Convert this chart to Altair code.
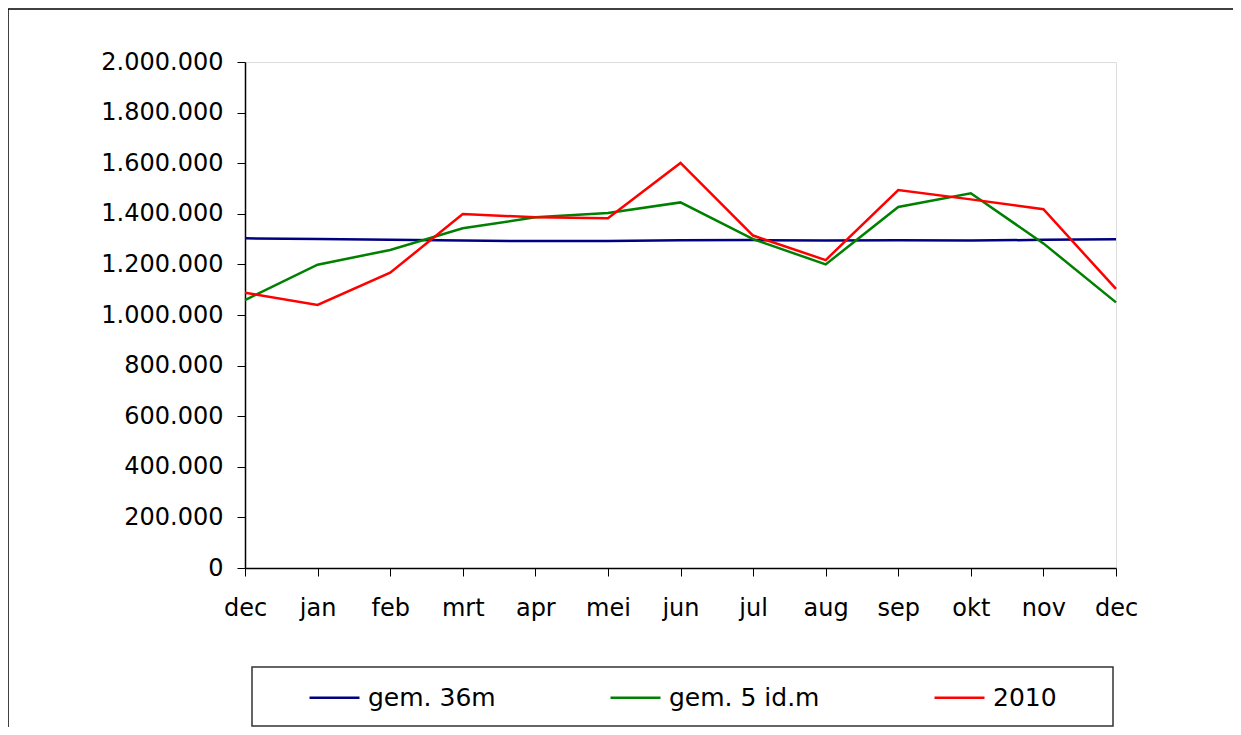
import altair as alt
import pandas as pd

months = ["dec", "jan", "feb", "mrt", "apr", "mei", "jun", "jul", "aug", "sep", "okt", "nov", "dec"]
series_names = ["gem. 36m", "gem. 5 id.m", "2010"]
series_colors = ["#000080", "#008000", "#FF0000"]

gem36 = [1303000, 1300000, 1297000, 1294000, 1292000, 1292000, 1295000, 1296000, 1294000, 1295000, 1294000, 1297000, 1299000]
gem5 = [1059000, 1199000, 1257000, 1343000, 1386000, 1403000, 1445000, 1300000, 1200000, 1427000, 1481000, 1283000, 1050000]
y2010 = [1088000, 1040000, 1167000, 1399000, 1386000, 1382000, 1601000, 1314000, 1217000, 1494000, 1457000, 1418000, 1103000]

rows = []
for name, vals in zip(series_names, [gem36, gem5, y2010]):
    for i, v in enumerate(vals):
        rows.append({"idx": i, "serie": name, "value": v})
df = pd.DataFrame(rows)

FONT = "DejaVu Sans"
label_expr = "[" + ",".join("'%s'" % m for m in months) + "][datum.value]"

lines = alt.Chart(df).mark_line(strokeWidth=2.5).encode(
    x=alt.X("idx:O", scale=alt.Scale(type="point", padding=0),
            axis=alt.Axis(title=None, labelExpr=label_expr, labelAngle=0,
                          labelFontSize=24, labelFont=FONT, labelColor="black",
                          labelPadding=20, tickSize=8, tickColor="black",
                          domainColor="black", domainWidth=1.5, grid=False)),
    y=alt.Y("value:Q", scale=alt.Scale(domain=[0, 2000000], nice=False),
            axis=alt.Axis(title=None, values=list(range(0, 2000001, 200000)), format=",d",
                          labelFontSize=24, labelFont=FONT, labelColor="black",
                          labelPadding=14, tickSize=8, tickColor="black",
                          domainColor="black", domainWidth=1.5, grid=False)),
    color=alt.Color("serie:N", scale=alt.Scale(domain=series_names, range=series_colors),
                    legend=alt.Legend(title=None, orient="none", legendX=63, legendY=609,
                                      direction="horizontal", columns=3, columnPadding=109,
                                      symbolType="stroke", symbolSize=2500, symbolStrokeWidth=2.5,
                                      labelFontSize=25, labelFont=FONT, labelColor="black",
                                      labelOffset=7, padding=0)),
    order=alt.Order("idx:Q"),
)

dummy = alt.Data(values=[{"a": 1}])
frame_top = alt.Chart(dummy).mark_rule(color="black", strokeWidth=1.5).encode(
    x=alt.value(-237), x2=alt.value(1000), y=alt.value(-53))
frame_left = alt.Chart(dummy).mark_rule(color="black", strokeWidth=1.5).encode(
    x=alt.value(-237), y=alt.value(-53), y2=alt.value(700))
legend_box = alt.Chart(dummy).mark_rect(fill="white", stroke="#333333", strokeWidth=1.5).encode(
    x=alt.value(7), x2=alt.value(868), y=alt.value(605), y2=alt.value(664))

chart = alt.layer(frame_top, frame_left, legend_box, lines).properties(
    width=871, height=506,
    autosize=alt.AutoSizeParams(type="none"),
    padding={"left": 237, "top": 54, "right": 117, "bottom": 159},
).configure_view(stroke="#808080", strokeWidth=2.5).configure(
    locale={"number": {"decimal": ",", "thousands": ".", "grouping": [3], "currency": ["€", ""]}}
)

chart.save("out.html", embed_options={"renderer": "svg", "actions": False})
